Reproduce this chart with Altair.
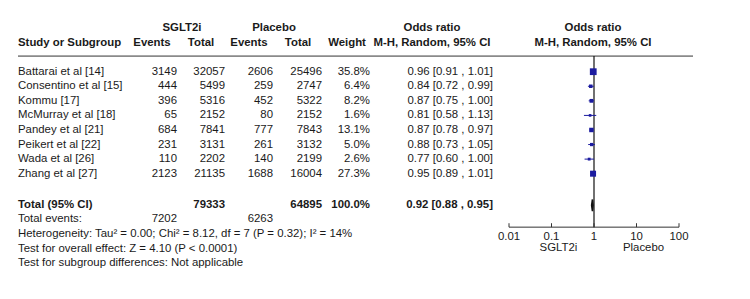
import altair as alt
import pandas as pd

# ---- data ----
studies = ["Battarai et al [14]", "Consentino et al [15]", "Kommu [17]", "McMurray et al [18]",
           "Pandey et al [21]", "Peikert et al [22]", "Wada et al [26]", "Zhang et al [27]"]
sg_events = [3149, 444, 396, 65, 684, 231, 110, 2123]
sg_total = [32057, 5499, 5316, 2152, 7841, 3131, 2202, 21135]
pl_events = [2606, 259, 452, 80, 777, 261, 140, 1688]
pl_total = [25496, 2747, 5322, 2152, 7843, 3132, 2199, 16004]
weights = [35.8, 6.4, 8.2, 1.6, 13.1, 5.0, 2.6, 27.3]
or_est = [0.96, 0.84, 0.87, 0.81, 0.87, 0.88, 0.77, 0.95]
or_lo = [0.91, 0.72, 0.75, 0.58, 0.78, 0.73, 0.60, 0.89]
or_hi = [1.01, 0.99, 1.00, 1.13, 0.97, 1.05, 1.00, 1.01]

total_sg_n = 79333
total_pl_n = 64895
total_sg_e = 7202
total_pl_e = 6263
pooled = [0.92, 0.88, 0.95]
ticks = [0.01, 0.1, 1, 10, 100]
tick_labels = ["0.01", "0.1", "1", "10", "100"]
footnotes = ["Heterogeneity: Tau\u00b2 = 0.00; Chi\u00b2 = 8.12, df = 7 (P = 0.32); I\u00b2 = 14%",
             "Test for overall effect: Z = 4.10 (P < 0.0001)",
             "Test for subgroup differences: Not applicable"]

# ---- layout (row units) ----
R_GROUP, R_HEAD, R_LINE = -3.0, -1.97, -1.07
R_TOTAL, R_TEV, R_AXIS, R_TICKLAB, R_SIDE = 9.17, 10.14, 10.67, 11.33, 12.08
R_FOOT = [11.15, 12.15, 13.15]

FONT = "Liberation Sans"
FS = 11.4
TXT = "#1a1a1a"
NAVY = "#1c1ca0"

ys = alt.Scale(domain=[0, 13], range=[63.7, 253.1])
xs = alt.Scale(type="log", domain=[0.01, 100], range=[501, 671])

rows = pd.DataFrame({
    "study": studies, "e1": sg_events, "n1": sg_total, "e2": pl_events, "n2": pl_total,
    "w": weights, "or": or_est, "lo": or_lo, "hi": or_hi,
    "row": list(range(len(studies))),
})
rows["wtxt"] = [f"{w:.1f}%" for w in weights]
rows["ortxt"] = [f"{o:.2f} [{l:.2f} , {h:.2f}]" for o, l, h in zip(or_est, or_lo, or_hi)]


def tlayer(df, field, x, align, bold=False):
    return alt.Chart(df).mark_text(
        align=align, baseline="middle", font=FONT, fontSize=FS, color=TXT,
        fontWeight="bold" if bold else "normal"
    ).encode(
        x=alt.value(x),
        y=alt.Y("row:Q", scale=ys, axis=None),
        text=alt.Text(f"{field}:N"),
    )


layers = []
# study rows
layers += [
    tlayer(rows, "study", 10, "left"),
    tlayer(rows, "e1", 169, "right"),
    tlayer(rows, "n1", 217, "right"),
    tlayer(rows, "e2", 265, "right"),
    tlayer(rows, "n2", 314, "right"),
    tlayer(rows, "wtxt", 362, "right"),
    tlayer(rows, "ortxt", 485, "right"),
]

# headers
for t, x in zip(["SGLT2i", "Placebo", "Odds ratio", "Odds ratio"], [174, 266, 424, 585]):
    layers.append(tlayer(pd.DataFrame({"t": [t], "row": [R_GROUP]}), "t", x, "center", True))
heads = [("Study or Subgroup", 10, "left"), ("Events", 144, "center"), ("Total", 193, "center"),
         ("Events", 241, "center"), ("Total", 290, "center"), ("Weight", 339, "center"),
         ("M-H, Random, 95% CI", 424, "center"), ("M-H, Random, 95% CI", 585, "center")]
for t, x, a in heads:
    layers.append(tlayer(pd.DataFrame({"t": [t], "row": [R_HEAD]}), "t", x, a, True))

# header line
layers.append(alt.Chart(pd.DataFrame({"row": [R_LINE]})).mark_rule(
    color="#8a8a8a", strokeWidth=1.6).encode(
    x=alt.value(10), x2=alt.value(685), y=alt.Y("row:Q", scale=ys, axis=None)))

# totals
tot = pd.DataFrame({"row": [R_TOTAL], "lab": ["Total (95% CI)"], "n1": [str(total_sg_n)],
                    "n2": [str(total_pl_n)], "w": ["100.0%"],
                    "ortxt": [f"{pooled[0]:.2f} [{pooled[1]:.2f} , {pooled[2]:.2f}]"]})
layers += [
    tlayer(tot, "lab", 10, "left", True),
    tlayer(tot, "n1", 217, "right", True),
    tlayer(tot, "n2", 314, "right", True),
    tlayer(tot, "w", 362, "right", True),
    tlayer(tot, "ortxt", 485, "right", True),
]
tev = pd.DataFrame({"row": [R_TEV], "lab": ["Total events:"], "e1": [str(total_sg_e)],
                    "e2": [str(total_pl_e)]})
layers += [tlayer(tev, "lab", 10, "left"), tlayer(tev, "e1", 169, "right"),
           tlayer(tev, "e2", 265, "right")]
layers.append(tlayer(pd.DataFrame({"t": footnotes, "row": R_FOOT}), "t", 10, "left"))

# forest: vertical line at 1
layers.append(alt.Chart(pd.DataFrame({"v": [1], "r0": [R_LINE], "r1": [R_AXIS]})).mark_rule(
    color="#111111", strokeWidth=1.2).encode(
    x=alt.X("v:Q", scale=xs, axis=None),
    y=alt.Y("r0:Q", scale=ys, axis=None), y2="r1:Q"))

# CI lines
layers.append(alt.Chart(rows).mark_rule(color=NAVY, strokeWidth=1).encode(
    x=alt.X("lo:Q", scale=xs, axis=None), x2="hi:Q",
    y=alt.Y("row:Q", scale=ys, axis=None)))
# squares
layers.append(alt.Chart(rows).mark_square(color=NAVY, opacity=1, filled=True).encode(
    x=alt.X("or:Q", scale=xs, axis=None),
    y=alt.Y("row:Q", scale=ys, axis=None),
    size=alt.Size("w:Q", scale=alt.Scale(domain=[0, 36], range=[5, 46]), legend=None)))

# diamond
dh = 0.4
dia = pd.DataFrame({"x": [pooled[1], pooled[0], pooled[2]],
                    "top": [R_TOTAL, R_TOTAL - dh, R_TOTAL],
                    "bot": [R_TOTAL, R_TOTAL + dh, R_TOTAL]})
layers.append(alt.Chart(dia).mark_area(color="#111111", orient="vertical", stroke="#111111",
                                       strokeWidth=1.6, opacity=1).encode(
    x=alt.X("x:Q", scale=xs, axis=None),
    y=alt.Y("top:Q", scale=ys, axis=None), y2="bot:Q"))

# axis
layers.append(alt.Chart(pd.DataFrame({"a": [ticks[0]], "b": [ticks[-1]], "row": [R_AXIS]})).mark_rule(
    color="#333333", strokeWidth=1).encode(
    x=alt.X("a:Q", scale=xs, axis=None), x2="b:Q", y=alt.Y("row:Q", scale=ys, axis=None)))
tk = pd.DataFrame({"v": ticks, "lab": tick_labels, "r0": [R_AXIS - 0.27] * 5, "r1": [R_AXIS] * 5,
                   "rl": [R_TICKLAB] * 5})
layers.append(alt.Chart(tk).mark_rule(color="#333333", strokeWidth=1).encode(
    x=alt.X("v:Q", scale=xs, axis=None), y=alt.Y("r0:Q", scale=ys, axis=None), y2="r1:Q"))
layers.append(alt.Chart(tk).mark_text(font=FONT, fontSize=FS, color=TXT, baseline="middle",
                                      align="center").encode(
    x=alt.X("v:Q", scale=xs, axis=None), y=alt.Y("rl:Q", scale=ys, axis=None), text="lab:N"))
side = pd.DataFrame({"v": [0.1, 10], "lab": ["SGLT2i", "Placebo"], "row": [R_SIDE] * 2})
layers.append(alt.Chart(side).mark_text(font=FONT, fontSize=FS, color=TXT, baseline="middle",
                                        align="center", dx=7).encode(
    x=alt.X("v:Q", scale=xs, axis=None), y=alt.Y("row:Q", scale=ys, axis=None), text="lab:N"))

chart = alt.layer(*layers).properties(
    width=734, height=283,
    autosize=alt.AutoSizeParams(type="none"),
    padding=0,
).configure_view(stroke=None)

chart.save("out.html", embed_options={"renderer": "svg", "actions": False})
